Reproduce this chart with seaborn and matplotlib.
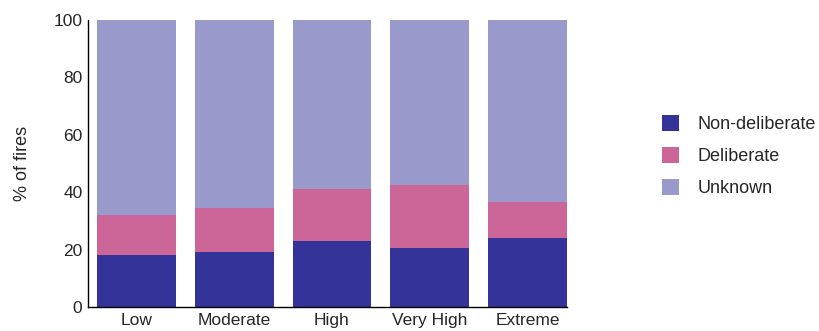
import matplotlib
matplotlib.use("Agg")
import matplotlib.pyplot as plt
import seaborn as sns
import pandas as pd
import numpy as np

categories = ["Low", "Moderate", "High", "Very High", "Extreme"]
non_deliberate = [18.1, 19.2, 23.0, 20.6, 24.0]
deliberate = [14.0, 15.3, 18.1, 21.9, 12.6]
unknown = [100 - a - b for a, b in zip(non_deliberate, deliberate)]

colors = {"Non-deliberate": "#333399", "Deliberate": "#CC6699", "Unknown": "#9999CC"}

sns.set_style("white")
plt.rcParams["font.family"] = ["Liberation Sans", "DejaVu Sans"]

# cumulative heights, drawn tallest first so each stack segment shows
nd = np.array(non_deliberate)
d_top = nd + np.array(deliberate)
u_top = d_top + np.array(unknown)

fig = plt.figure(figsize=(8.2, 3.31), dpi=100)
ax = fig.add_axes([88 / 820, 1 - 307 / 331, (567 - 88) / 820, (307 - 20) / 331])

for name, vals in [("Unknown", u_top), ("Deliberate", d_top), ("Non-deliberate", nd)]:
    df = pd.DataFrame({"cat": categories, "val": vals})
    sns.barplot(data=df, x="cat", y="val", color=colors[name], width=0.808,
                saturation=1, label=name, ax=ax, linewidth=0, legend=False)

ax.set_ylim(0, 100)
ax.set_xlim(-0.496, 4.404)
ax.set_yticks([0, 20, 40, 60, 80, 100])
ax.set_xlabel("")
ax.set_ylabel("% of fires", fontsize=13, labelpad=16)
ax.tick_params(axis="both", length=0, labelsize=12.5, pad=4)
for s in ["top", "right"]:
    ax.spines[s].set_visible(False)
for s in ["left", "bottom"]:
    ax.spines[s].set_color("black")
    ax.spines[s].set_linewidth(1)
if ax.get_legend() is not None:
    ax.get_legend().remove()

h, l = ax.get_legend_handles_labels()
order = [l.index("Non-deliberate"), l.index("Deliberate"), l.index("Unknown")]
fig.legend([h[i] for i in order], [l[i] for i in order], loc="center left",
           bbox_to_anchor=(0.7876, 0.528), frameon=False, fontsize=13,
           handlelength=0.95, handleheight=0.95, labelspacing=0.78, handletextpad=1.0)

fig.savefig("out.png", dpi=100)
